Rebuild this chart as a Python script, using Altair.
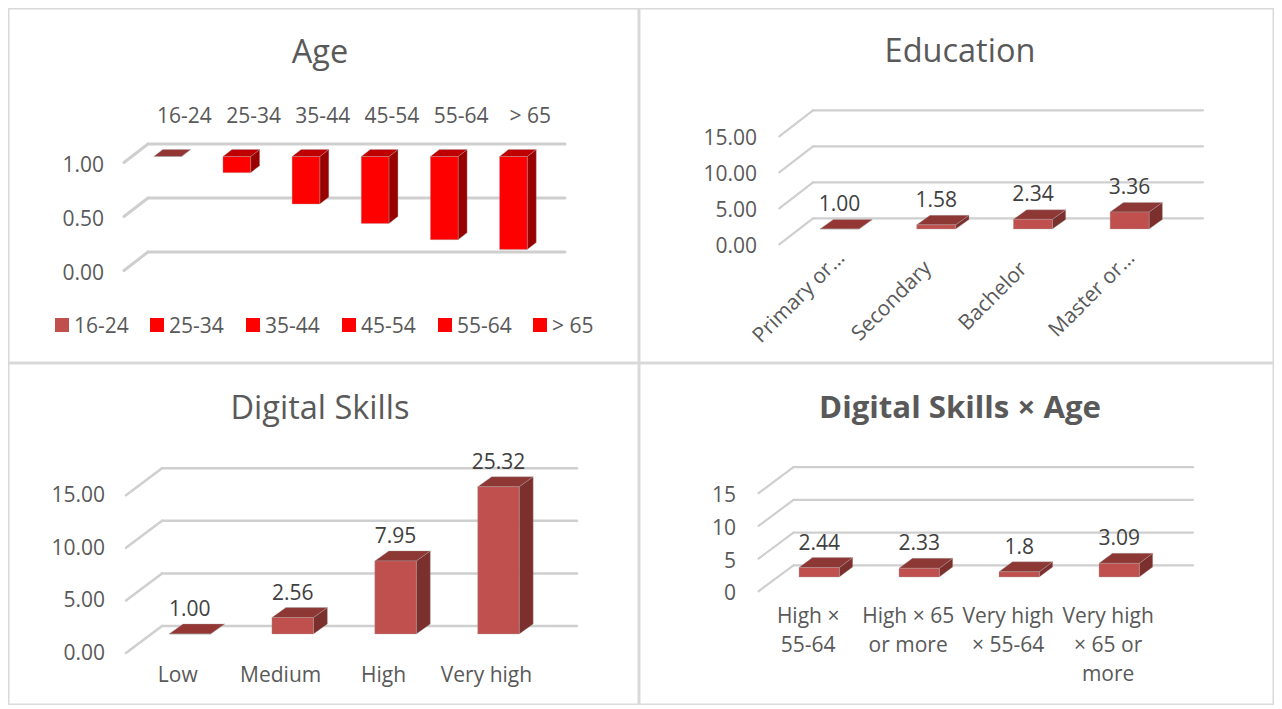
import altair as alt
import pandas as pd

# ---- values ----
age_labels = ["16-24", "25-34", "35-44", "45-54", "55-64", "> 65"]
age_values = [1.00, 0.85, 0.56, 0.38, 0.23, 0.14]
age_ticks = [0.0, 0.5, 1.0]

edu_labels = ["Primary or…", "Secondary", "Bachelor", "Master or…"]
edu_values = [1.00, 1.58, 2.34, 3.36]
edu_texts = ["1.00", "1.58", "2.34", "3.36"]
edu_ticks = [0, 5, 10, 15]

skill_labels = ["Low", "Medium", "High", "Very high"]
skill_values = [1.00, 2.56, 7.95, 25.32]
skill_texts = ["1.00", "2.56", "7.95", "25.32"]
skill_ticks = [0, 5, 10, 15]

cross_labels = ["High ×\n55-64", "High × 65\nor more", "Very high\n× 55-64", "Very high\n× 65 or\nmore"]
cross_values = [2.44, 2.33, 1.8, 3.09]
cross_texts = ["2.44", "2.33", "1.8", "3.09"]
cross_ticks = [0, 5, 10, 15]

FONT = "Open Sans"
GREY = "#595959"
DARK = "#404040"
GRID = "#CFCFCF"
FRAME = "#D9D9D9"
BRICK = ("#C0504D", "#8E3836", "#7B302E")
RED = ("#FF0000", "#BF0000", "#990000")
FLAT = ("#C0504D", "#943634", "#7B302E")
FS = 21
EDGE = dict(stroke="#A6A6A6", strokeOpacity=0.35, strokeWidth=1)


class Panel:
    """Maps a bar index and a value onto one panel's linear scales."""

    def __init__(self, ox, oy, w, h, x0, step, bw, ddx, ddy, one, ppu, back0, back1, wall0, wdx, wdy):
        self.ox, self.oy, self.w, self.h = ox, oy, w, h
        self.x0, self.step, self.bw, self.ddx, self.ddy = x0, step, bw, ddx, ddy
        self.one, self.ppu = one, ppu
        self.back0, self.back1, self.wall0, self.wdx, self.wdy = back0, back1, wall0, wdx, wdy
        self.xs = alt.Scale(domain=[self.ux(ox), self.ux(ox + w)], range=[0, w], nice=False, zero=False)
        self.ys = alt.Scale(domain=[self.uy(oy + h), self.uy(oy)], range=[h, 0], nice=False, zero=False)

    def ux(self, px):
        return (px - self.x0) / self.step

    def uy(self, py):
        return 1 + (self.one - py) / self.ppu

    def X(self, f="x"):
        return alt.X(f, type="quantitative", scale=self.xs, axis=None)

    def Y(self, f="y"):
        return alt.Y(f, type="quantitative", scale=self.ys, axis=None)

    def frame(self, t=1.5):
        l, r, a, b = self.ox, self.ox + self.w, self.oy, self.oy + self.h
        edges = [(l, r, a, a + t), (l, r, b - t, b), (l, l + t, a, b), (r - t, r, a, b)]
        rows = [dict(x=self.ux(e[0]), x2=self.ux(e[1]), y=self.uy(e[2]), y2=self.uy(e[3])) for e in edges]
        return alt.Chart(pd.DataFrame(rows)).mark_rect(color=FRAME).encode(
            x=self.X(), x2=alt.X2("x2"), y=self.Y(), y2=alt.Y2("y2"))

    def walls(self, ticks, width=2.5):
        rows = []
        for t in ticks:
            by = self.wall0 - t * self.ppu
            rows.append(dict(x=self.ux(self.back0), x2=self.ux(self.back1), y=self.uy(by), y2=self.uy(by)))
            rows.append(dict(x=self.ux(self.back0 + self.wdx), x2=self.ux(self.back0),
                             y=self.uy(by + self.wdy), y2=self.uy(by)))
        return alt.Chart(pd.DataFrame(rows)).mark_rule(color=GRID, strokeWidth=width, strokeCap="round").encode(
            x=self.X(), x2=alt.X2("x2"), y=self.Y(), y2=alt.Y2("y2"))

    def ticks(self, ticks, texts, right, dy=3):
        rows = [dict(x=self.ux(right), y=self.uy(self.wall0 - t * self.ppu + self.wdy + dy), t=s)
                for t, s in zip(ticks, texts)]
        return alt.Chart(pd.DataFrame(rows)).mark_text(
            align="right", baseline="middle", font=FONT, fontSize=FS, color=GREY
        ).encode(x=self.X(), y=self.Y(), text="t:N")

    def bars(self, values, palettes, cap=None):
        front, side, top = [], [], []
        dx = self.ddx / self.step
        dv = self.ddy / self.ppu
        w = self.bw / self.step
        for i, v in enumerate(values):
            c = min(v, cap) if cap is not None else v
            hi, lo = max(c, 1), min(c, 1)
            pal = palettes[i]
            l, r = i, i + w
            front.append(dict(x=l, x2=r, y=lo, y2=hi, f=pal[0]))
            side += [dict(id=i, x=r, y=hi, y2=lo, f=pal[2]),
                     dict(id=i, x=r + dx, y=hi + dv, y2=lo + dv, f=pal[2])]
            top += [dict(id=i, x=l, y=hi, y2=hi, f=pal[1]),
                    dict(id=i, x=l + dx, y=hi + dv, y2=hi, f=pal[1]),
                    dict(id=i, x=r, y=hi + dv, y2=hi, f=pal[1]),
                    dict(id=i, x=r + dx, y=hi + dv, y2=hi + dv, f=pal[1])]
        fill = alt.Fill("f:N", scale=None)
        def area(rows):
            return alt.Chart(pd.DataFrame(rows)).mark_area(interpolate="linear", **EDGE).encode(
                x=self.X(), y=self.Y().stack(None), y2=alt.Y2("y2"), fill=fill, detail="id:N")
        fr = alt.Chart(pd.DataFrame(front)).mark_rect(**EDGE).encode(
            x=self.X(), x2=alt.X2("x2"), y=self.Y(), y2=alt.Y2("y2"), fill=fill)
        return [area(side), area(top), fr]

    def value_labels(self, values, texts, cap=None):
        rows = []
        for i, (v, s) in enumerate(zip(values, texts)):
            c = min(v, cap) if cap is not None else v
            rows.append(dict(x=i + self.bw / self.step / 2, y=c + 24 / self.ppu, t=s))
        return alt.Chart(pd.DataFrame(rows)).mark_text(
            align="center", baseline="middle", font=FONT, fontSize=FS, color=DARK
        ).encode(x=self.X(), y=self.Y(), text="t:N")

    def cat_labels(self, labels, dx, py, shifts=None, **kw):
        shifts = shifts or [0] * len(labels)
        rows = [dict(x=i + (self.bw / 2 + dx + sh) / self.step, y=self.uy(py - sh), t=s)
                for i, (s, sh) in enumerate(zip(labels, shifts))]
        opts = dict(align="center", baseline="middle", font=FONT, fontSize=FS, color=GREY)
        opts.update(kw)
        return alt.Chart(pd.DataFrame(rows)).mark_text(**opts).encode(x=self.X(), y=self.Y(), text="t:N")

    def title(self, text, cx, py, bold=False):
        rows = [dict(x=self.ux(cx), y=self.uy(py + 2), t=text)]
        return alt.Chart(pd.DataFrame(rows)).mark_text(
            align="center", baseline="middle", font=FONT, fontSize=31.2 if bold else 32.5, color=GREY,
            fontWeight="bold" if bold else "normal"
        ).encode(x=self.X(), y=self.Y(), text="t:N")


W1, W2, H1, H2 = 631, 635, 355, 342

# ---- Age ----
p = Panel(8, 8, W1, H1, 153.8, 69.15, 27.7, 9, 7, 156.5, 108, 148, 565, 252, -24, 18.5)
age_pal = [FLAT] + [RED] * 5
swatch_px = [55, 150, 246, 342, 438, 533]
swatch_cols = [FLAT[0]] + [RED[0]] * 5
leg = pd.DataFrame(dict(x=[p.ux(s + 7) for s in swatch_px], tx=[p.ux(s + 19) for s in swatch_px],
                        y=[p.uy(325)] * 6, ty=[p.uy(327)] * 6, t=age_labels, f=swatch_cols))
age = alt.layer(
    p.frame(),
    p.walls(age_ticks, 3),
    p.ticks(age_ticks, ["0.00", "0.50", "1.00"], 104),
    *p.bars(age_values, age_pal),
    p.cat_labels(age_labels, 16.8, 117),
    alt.Chart(leg).mark_square(size=196, opacity=1).encode(
        x=p.X(), y=p.Y(), fill=alt.Fill("f:N", scale=None)),
    alt.Chart(leg).mark_text(align="left", baseline="middle", font=FONT, fontSize=FS, color=GREY).encode(
        x=p.X("tx"), y=p.Y("ty"), text="t:N"),
    p.title("Age", 320, 51),
).properties(width=W1, height=H1)

# ---- Education ----
p = Panel(639, 8, W2, H1, 820, 96.7, 39, 13.3, 9.5, 229, 7.2, 813, 1203, 218.3, -33.7, 26)
edu = alt.layer(
    p.frame(),
    p.walls(edu_ticks, 2.2),
    p.ticks(edu_ticks, ["0.00", "5.00", "10.00", "15.00"], 757),
    *p.bars(edu_values, [FLAT] + [BRICK] * 3),
    p.value_labels(edu_values, edu_texts),
    p.cat_labels(edu_labels, -5, 262, shifts=[7, -3, -4, 7], align="right", angle=315),
    p.title("Education", 960, 50),
).properties(width=W2, height=H1)

# ---- Digital Skills ----
p = Panel(8, 363, W1, H2, 169, 102.9, 41.5, 14, 10, 634, 10.52, 162, 577, 626, -36, 27)
skill = alt.layer(
    p.frame(),
    p.walls(skill_ticks, 2.5),
    p.ticks(skill_ticks, ["0.00", "5.00", "10.00", "15.00"], 105, 1),
    *p.bars(skill_values, [FLAT] + [BRICK] * 3, cap=15),
    p.value_labels(skill_values, skill_texts, cap=15),
    p.cat_labels(skill_labels, -12, 675.5),
    p.title("Digital Skills", 320, 407),
).properties(width=W1, height=H2)

# ---- Digital Skills × Age ----
p = Panel(639, 363, W2, H2, 799, 100, 40.3, 13.4, 10, 577, 6.54, 793.5, 1193, 565.3, -35, 26)
cross = alt.layer(
    p.frame(),
    p.walls(cross_ticks, 2.2),
    p.ticks(cross_ticks, ["0", "5", "10", "15"], 736),
    *p.bars(cross_values, [BRICK] * 4),
    p.value_labels(cross_values, cross_texts),
    p.cat_labels(cross_labels, -11, 606, baseline="top", lineBreak="\n", lineHeight=29),
    p.title("Digital Skills × Age", 960, 407, bold=True),
).properties(width=W2, height=H2)

chart = alt.vconcat(
    alt.hconcat(age, edu, spacing=0),
    alt.hconcat(skill, cross, spacing=0),
    spacing=0,
).properties(padding=0).configure_view(stroke=None)

chart.save("out.html", embed_options={"renderer": "svg", "actions": False})
